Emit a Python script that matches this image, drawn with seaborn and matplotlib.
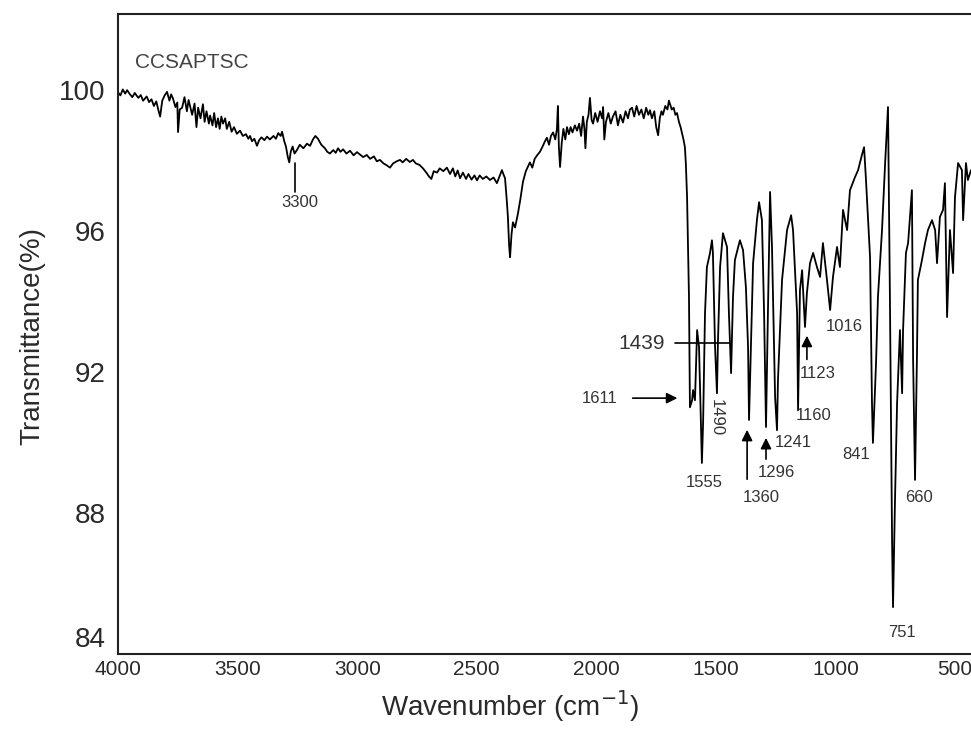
import matplotlib
matplotlib.use("Agg")
import matplotlib.pyplot as plt
import matplotlib.transforms as mtransforms
import seaborn as sns
import pandas as pd

# ---- data ----
wavenumber = [4000, 3990, 3980, 3970, 3962, 3950, 3940, 3930, 3915, 3905, 3895, 3880, 3870, 3860,
              3850, 3840, 3830, 3824, 3815, 3805, 3795, 3785, 3778, 3770, 3760, 3752, 3749, 3742,
              3732, 3722, 3712, 3705, 3699, 3690, 3680, 3672, 3665, 3655, 3645, 3638, 3630, 3620,
              3615, 3605, 3598, 3590, 3582, 3575, 3568, 3561, 3552, 3545, 3535, 3525, 3515, 3503,
              3490, 3478, 3465, 3455, 3448, 3440, 3430, 3419, 3410, 3400, 3388, 3377, 3365, 3350,
              3340, 3330, 3320, 3314, 3305, 3298, 3290, 3284, 3278, 3270, 3262, 3252, 3240, 3225,
              3210, 3197, 3185, 3175, 3164, 3150, 3135, 3125, 3114, 3100, 3090, 3080, 3070, 3059,
              3045, 3030, 3015, 3001, 2990, 2975, 2960, 2946, 2930, 2918, 2905, 2890, 2875, 2863,
              2850, 2835, 2821, 2810, 2795, 2780, 2767, 2755, 2740, 2725, 2710, 2700, 2690, 2680,
              2666, 2655, 2640, 2625, 2612, 2600, 2590, 2580, 2570, 2558, 2545, 2535, 2522, 2510,
              2499, 2488, 2475, 2460, 2445, 2430, 2416, 2405, 2395, 2388, 2382, 2375, 2370, 2365,
              2361, 2355, 2349, 2340, 2328, 2318, 2307, 2295, 2285, 2278, 2268, 2258, 2248, 2236,
              2225, 2215, 2207, 2198, 2190, 2181, 2172, 2165, 2161, 2157, 2152, 2145, 2138, 2130,
              2123, 2115, 2108, 2100, 2090, 2081, 2072, 2064, 2056, 2050, 2046, 2040, 2033, 2027,
              2020, 2014, 2005, 1995, 1985, 1976, 1972, 1967, 1960, 1950, 1940, 1931, 1920, 1910,
              1900, 1889, 1878, 1868, 1860, 1851, 1842, 1832, 1822, 1812, 1802, 1792, 1783, 1776,
              1768, 1758, 1750, 1742, 1735, 1728, 1722, 1712, 1703, 1697, 1692, 1685, 1677, 1670,
              1663, 1655, 1648, 1642, 1636, 1630, 1626, 1621, 1617, 1613,
              1609, 1600, 1596, 1588, 1579, 1571,
              1559, 1554, 1546, 1538, 1525, 1517, 1513, 1504, 1496, 1492, 1483, 1471, 1454, 1446,
              1437, 1429, 1421, 1400, 1387, 1375, 1366, 1362, 1354, 1345, 1329, 1320, 1308, 1299,
              1291, 1283, 1274, 1266, 1253, 1245, 1241, 1224, 1203, 1186, 1178, 1161, 1157, 1149,
              1140, 1136, 1128, 1120, 1107, 1094, 1078, 1065, 1053, 1036, 1023, 1011, 994, 982,
              969, 952, 940, 919, 906, 890, 881, 873, 856, 848, 844, 831, 823, 806, 793, 781,
              773, 764, 760, 752, 743, 731, 722, 718, 706, 697, 681, 676, 668, 660, 656, 639,
              626, 614, 597, 584, 576, 564, 551, 543, 534, 522, 509, 501, 488, 472, 467, 455,
              447, 434]
transmittance = [99.94, 99.85, 100.02, 99.90, 100.0, 99.88, 99.80, 99.92, 99.78, 99.86, 99.70, 99.82, 99.66, 99.74,
                 99.55, 99.68, 99.40, 99.25, 99.70, 99.85, 99.95, 99.70, 99.88, 99.76, 99.52, 99.65, 98.81, 99.45,
                 99.50, 99.80, 99.40, 99.72, 99.55, 99.30, 99.62, 98.95, 99.50, 99.20, 99.60, 99.10, 99.40, 99.05,
                 99.28, 99.00, 99.35, 98.95, 99.20, 98.90, 99.25, 99.05, 99.20, 98.90, 99.10, 98.82, 98.95, 98.76,
                 98.85, 98.70, 98.75, 98.62, 98.70, 98.55, 98.62, 98.42, 98.58, 98.66, 98.58, 98.68, 98.60, 98.70,
                 98.62, 98.78, 98.70, 98.82, 98.55, 98.40, 98.10, 97.95, 98.25, 98.40, 98.20, 98.30, 98.45, 98.35,
                 98.48, 98.42, 98.60, 98.70, 98.62, 98.45, 98.35, 98.25, 98.20, 98.30, 98.22, 98.35, 98.25, 98.32,
                 98.20, 98.28, 98.15, 98.24, 98.18, 98.10, 98.16, 98.05, 98.12, 97.98, 98.02, 97.92, 97.86, 97.80,
                 97.92, 97.98, 98.02, 97.95, 98.05, 97.96, 98.02, 97.92, 97.88, 97.78, 97.65, 97.55, 97.48, 97.70,
                 97.66, 97.78, 97.70, 97.80, 97.62, 97.78, 97.55, 97.72, 97.50, 97.66, 97.48, 97.62, 97.46, 97.58,
                 97.44, 97.58, 97.48, 97.55, 97.45, 97.52, 97.36, 97.55, 97.73, 97.60, 97.50, 96.90, 96.40, 95.60,
                 95.26, 95.90, 96.25, 96.10, 96.50, 96.90, 97.40, 97.70, 97.85, 97.95, 97.80, 98.05, 98.15, 98.25,
                 98.40, 98.55, 98.65, 98.45, 98.70, 98.80, 98.60, 98.90, 99.55, 98.40, 97.82, 98.50, 98.90, 98.60,
                 98.95, 98.75, 98.95, 98.80, 99.00, 98.85, 99.05, 98.70, 99.25, 98.90, 98.35, 99.10, 99.30, 99.78,
                 99.15, 99.05, 99.35, 99.10, 99.40, 99.20, 99.52, 98.60, 99.10, 99.35, 99.05, 99.25, 99.40, 99.00,
                 99.30, 99.08, 99.40, 99.20, 99.45, 99.50, 99.25, 99.55, 99.30, 99.45, 99.20, 99.50, 99.30, 99.43,
                 99.20, 99.40, 98.95, 98.72, 99.20, 99.40, 99.30, 99.55, 99.45, 99.70, 99.60, 99.45, 99.50, 99.30,
                 99.35, 99.10, 98.95, 98.78, 98.60, 98.38, 97.90, 96.96, 95.50, 94.13,
                 91.00, 91.20, 91.49, 91.20, 93.19, 92.71,
                 89.42, 90.55, 93.67, 94.98, 95.38, 95.74, 95.40, 92.71, 91.40, 92.82, 94.98, 95.94, 95.55, 93.67,
                 91.97, 94.13, 95.18, 95.74, 95.46, 94.41, 92.71, 90.64, 92.71, 95.09, 96.31, 96.82, 96.31, 93.67,
                 90.44, 93.67, 97.11, 95.55, 91.29, 90.35, 91.77, 94.61, 96.03, 96.45, 96.03, 93.67, 90.92, 94.33,
                 94.89, 94.33, 93.28, 94.24, 95.09, 95.38, 94.98, 94.70, 95.66, 94.61, 93.76, 94.70, 95.55, 94.98,
                 96.60, 96.03, 97.16, 97.53, 97.73, 98.16, 98.38, 97.45, 95.26, 91.12, 89.99, 92.26, 94.13, 96.03, 97.93, 99.52,
                 94.13, 87.23, 85.33, 88.28, 91.12, 93.19, 91.40, 93.19, 95.38, 95.66, 97.16, 92.34, 88.94, 92.43, 94.61, 95.18,
                 95.66, 96.03, 96.31, 96.03, 95.09, 96.40, 96.60, 97.36, 93.56, 96.03, 94.81, 96.96, 97.93, 97.73, 96.31, 97.93,
                 97.45, 97.73]

y_ticks = [84, 88, 92, 96, 100]
x_ticks = [4000, 3500, 3000, 2500, 2000, 1500, 1000, 500]

peak_labels = ["3300", "1611", "1439", "1490", "1555", "1360", "1296", "1241",
               "1160", "1123", "1016", "841", "660", "751"]

df = pd.DataFrame({"wn": wavenumber, "T": transmittance})

sns.set_style("white")
plt.rcParams["font.family"] = ["Liberation Sans", "DejaVu Sans"]

fig = plt.figure(figsize=(9.71, 7.29), dpi=100)
ax = fig.add_axes([118 / 971, 75 / 729, (971 - 118) / 971, (654 - 14) / 729])

sns.lineplot(data=df, x="wn", y="T", sort=False, estimator=None, color="black",
             linewidth=1.3, ax=ax)

ax.set_xlim(4000, 434)
ax.set_ylim(84, 102.16)
ax.set_xticks(x_ticks)
ax.set_yticks(y_ticks)
ax.set_xticklabels([str(v) for v in x_ticks], fontsize=15, color="#2a2a2a")
ax.set_yticklabels([str(v) for v in y_ticks], fontsize=20, color="#2a2a2a")
ax.tick_params(axis="both", length=0)
ax.tick_params(axis="x", pad=4)
ax.tick_params(axis="y", pad=9)

# the 84 label sits a bit higher in the reference
lbl84 = ax.get_yticklabels()[0]
lbl84.set_transform(lbl84.get_transform() +
                    mtransforms.ScaledTranslation(0, 17 / 100, fig.dpi_scale_trans))

ax.set_xlabel("Wavenumber (cm$^{-1}$)", fontsize=20, color="#2a2a2a")
ax.set_ylabel("Transmittance(%)", fontsize=20, color="#2a2a2a")
ax.xaxis.set_label_coords((510 - 118) / 853, -(688 - 654) / 640)
ax.yaxis.set_label_coords(-(118 - 45) / 853, (654 - 336) / 640)

for side in ["left", "bottom", "top"]:
    ax.spines[side].set_color("#222222")
    ax.spines[side].set_linewidth(1.5)
ax.spines["right"].set_visible(False)

tc = "#333333"
ax.text(3929, 100.77, "CCSAPTSC", fontsize=15, color="#444444", ha="left", va="center")

small = 12
def lab(txt, x, y, **kw):
    ax.text(x, y, txt, fontsize=kw.pop("fs", small), color=tc, ha="center", va="center", **kw)

lab(peak_labels[0], 3239, 96.82)
ax.plot([3260, 3260], [97.93, 97.1], color="black", lw=1.2)

lab(peak_labels[1], 1985, 91.26)
ax.annotate("", xy=(1650, 91.26), xytext=(1860, 91.26),
            arrowprops=dict(arrowstyle="-|>", color="black", lw=1.2, mutation_scale=16))

lab(peak_labels[2], 1813, 92.82, fs=15)
ax.plot([1671, 1441], [92.82, 92.82], color="black", lw=1.2)

lab(peak_labels[3], 1500, 90.70, rotation=-90)
lab(peak_labels[4], 1550, 88.88)
lab(peak_labels[5], 1312, 88.43)
ax.annotate("", xy=(1370, 90.44), xytext=(1370, 88.88),
            arrowprops=dict(arrowstyle="-|>", color="black", lw=1.2, mutation_scale=16))
lab(peak_labels[6], 1249, 89.16)
ax.annotate("", xy=(1291, 90.21), xytext=(1291, 89.45),
            arrowprops=dict(arrowstyle="-|>", color="black", lw=1.2, mutation_scale=16))
lab(peak_labels[7], 1178, 90.01)
lab(peak_labels[8], 1094, 90.78)
lab(peak_labels[9], 1073, 91.97)
ax.annotate("", xy=(1120, 93.11), xytext=(1120, 92.28),
            arrowprops=dict(arrowstyle="-|>", color="black", lw=1.2, mutation_scale=16))
lab(peak_labels[10], 965, 93.28)
lab(peak_labels[11], 915, 89.65)
lab(peak_labels[12], 651, 88.43)
lab(peak_labels[13], 722, 84.62)

fig.savefig("out.png", dpi=100)
